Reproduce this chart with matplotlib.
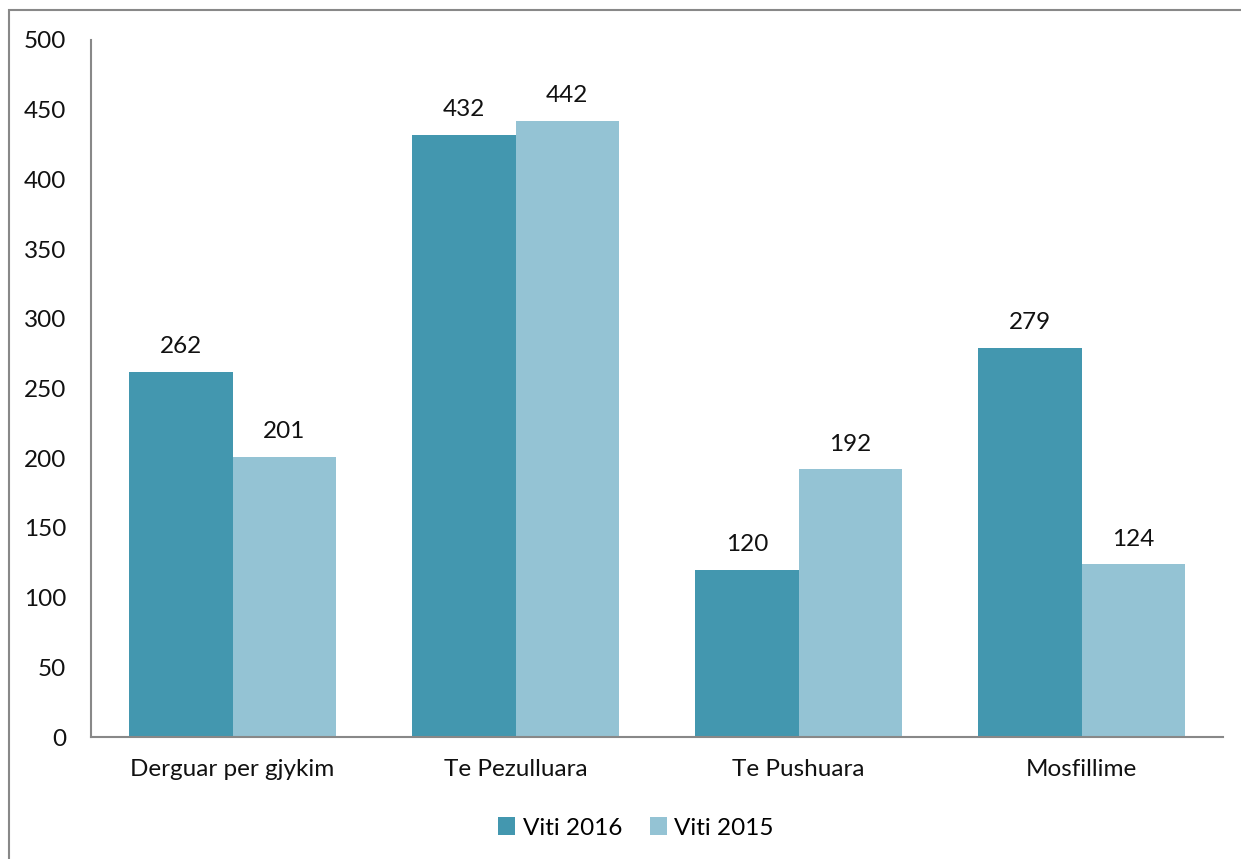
import matplotlib.pyplot as plt
import matplotlib.patches as patches
import numpy as np

categories = ["Derguar per gjykim", "Te Pezulluara", "Te Pushuara", "Mosfillime"]
viti_2016 = [262, 432, 120, 279]
viti_2015 = [201, 442, 192, 124]
series_names = ["Viti 2016", "Viti 2015"]

dark = "#4397AF"
light = "#94C3D4"

plt.rcParams['font.family'] = ['Lato', 'DejaVu Sans']
fs = 17.5

fig = plt.figure(figsize=(12.41, 8.59), dpi=100)
ax = fig.add_axes([91 / 1241, 1 - 737 / 859, 1132 / 1241, 697 / 859])

x = np.arange(len(categories))
w = 0.364
b1 = ax.bar(x - w / 2, viti_2016, w, color=dark, label=series_names[0])
b2 = ax.bar(x + w / 2, viti_2015, w, color=light, label=series_names[1])

for bars in (b1, b2):
    for bar in bars:
        ax.annotate(str(int(bar.get_height())),
                    (bar.get_x() + bar.get_width() / 2, bar.get_height()),
                    xytext=(0, 10.5), textcoords="offset points",
                    ha="center", va="bottom", fontsize=fs, color="#111111")

ax.set_xlim(-0.5, 3.5)
ax.set_ylim(0, 500)
ax.set_yticks(range(0, 501, 50))
ax.set_xticks(x)
ax.set_xticklabels(categories)
ax.tick_params(axis="both", length=0, labelsize=fs, colors="#111111")
ax.tick_params(axis="y", pad=18)
ax.tick_params(axis="x", pad=16)

for s in ("top", "right"):
    ax.spines[s].set_visible(False)
for s in ("left", "bottom"):
    ax.spines[s].set_color("#888888")
    ax.spines[s].set_linewidth(1.5)

fig.legend(loc="center", bbox_to_anchor=(636 / 1241, 1 - 828 / 859), ncol=2,
           frameon=False, fontsize=fs, handlelength=0.7, handleheight=0.7,
           handletextpad=0.3, columnspacing=1.15)

# outer chart border (only left and top visible)
fig.add_artist(patches.Rectangle((9 / 1241, -0.5), 2, 0.5 + 1 - 10 / 859,
                                 transform=fig.transFigure, fill=False,
                                 edgecolor="#888888", linewidth=1.5))

fig.savefig("out.png", dpi=100)
